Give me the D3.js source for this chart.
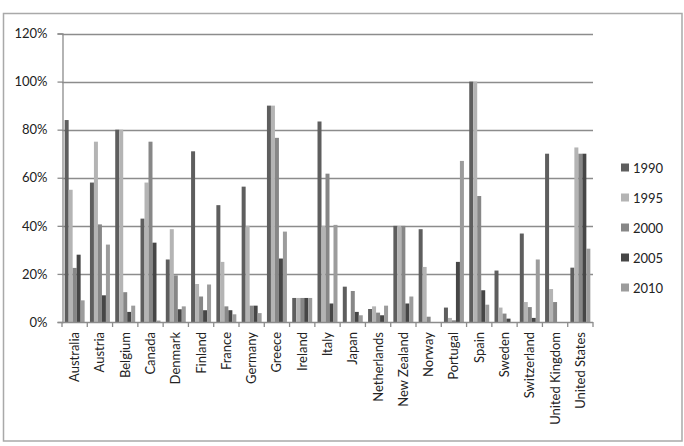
<!DOCTYPE html>
<html>
<head>
<meta charset="utf-8">
<script src="https://cdn.jsdelivr.net/npm/d3@7"></script>
<style>
html,body{margin:0;padding:0;background:#fff;}
svg{display:block;font-family:Lato,"Open Sans",sans-serif;}
</style>
</head>
<body>
<svg id="chart" width="684" height="446"></svg>
<script>
const categories = ["Australia","Austria","Belgium","Canada","Denmark","Finland","France","Germany","Greece","Ireland","Italy","Japan","Netherlands","New Zealand","Norway","Portugal","Spain","Sweden","Switzerland","United Kingdom","United States"];
const seriesNames = ["1990","1995","2000","2005","2010"];
const v1990 = [84,58,80,43,26,71,48.6,56.3,90,10,83.4,14.7,5.4,40,38.6,6,100,21.4,36.8,70,22.6];
const v1995 = [55,75,80,58,38.6,15.8,25,40,90,10,40,0,6.5,40,22.9,1.7,100,6,8.3,13.7,72.6];
const v2000 = [22.5,40.6,12.4,75,19.4,10.6,6.5,6.8,76.6,10,61.7,12.9,3.9,40,2.2,0.7,52.4,3.5,6.2,8.3,70];
const v2005 = [28,11.1,4.2,33,5.3,4.9,4.9,6.8,26.4,10,7.7,4.2,2.8,7.7,0,25,13.2,1.4,1.7,0,70];
const v2010 = [9,32.2,6.8,0.6,6.5,15.6,3.2,3.7,37.6,10,40.4,2.8,6.8,10.6,0,67,7.2,0,26,0,30.5];
const yTicks = [0,20,40,60,80,100,120];
const colors = ["#5e5e5e","#b4b4b4","#878787","#464646","#9c9c9c"];

const seriesValues = [v1990,v1995,v2000,v2005,v2010];
const svg = d3.select("#chart");

// outer frame
svg.append("rect").attr("x",3.5).attr("y",13.5).attr("width",678.5).attr("height",427.5)
  .attr("fill","#fff").attr("stroke","#a9a9a9").attr("stroke-width",1.5);

const pLeft = 62, pRight = 593, pTop = 33.5, pBottom = 322;
const x0 = d3.scaleBand().domain(categories).range([pLeft,pRight]).paddingInner(0.21).paddingOuter(0.105);
const x1 = d3.scaleBand().domain(seriesNames).range([0,x0.bandwidth()]);
const y = d3.scaleLinear().domain([0,120]).range([pBottom,pTop]);

// gridlines
svg.append("g").selectAll("line").data(yTicks.filter(d=>d>0)).join("line")
  .attr("x1",pLeft).attr("x2",pRight).attr("y1",d=>Math.round(y(d))+0.5).attr("y2",d=>Math.round(y(d))+0.5)
  .attr("stroke","#8c8c8c").attr("stroke-width",1.3);

// bars
const g = svg.append("g");
categories.forEach((c,i)=>{
  seriesNames.forEach((s,j)=>{
    const val = seriesValues[j][i];
    if (val<=0) return;
    g.append("rect")
      .attr("x",x0(c)+x1(s))
      .attr("y",y(val))
      .attr("width",x1.bandwidth())
      .attr("height",y(0)-y(val))
      .attr("fill",colors[j]);
  });
});

// y axis
const yAxis = d3.axisLeft(y).tickValues(yTicks).tickFormat(d=>d+"%").tickSize(5).tickPadding(10);
const ya = svg.append("g").attr("transform",`translate(${pLeft+0.5},0)`).call(yAxis);
ya.select(".domain").attr("stroke","#8c8c8c").attr("stroke-width",1.3);
ya.selectAll(".tick line").attr("stroke","#8c8c8c").attr("stroke-width",1.3);
ya.selectAll("text").attr("font-size",13).attr("fill","#222").attr("font-family","Lato");

// x axis
const xBound = d3.scaleLinear().domain([0,categories.length]).range([pLeft,pRight]);
const xa = svg.append("g");
xa.append("line").attr("x1",pLeft).attr("x2",pRight).attr("y1",pBottom+0.5).attr("y2",pBottom+0.5)
  .attr("stroke","#8c8c8c").attr("stroke-width",1.3);
xa.selectAll("line.tk").data(d3.range(categories.length+1)).join("line").attr("class","tk")
  .attr("x1",d=>xBound(d)).attr("x2",d=>xBound(d)).attr("y1",pBottom).attr("y2",pBottom+5)
  .attr("stroke","#8c8c8c").attr("stroke-width",1.3);
xa.selectAll("text").data(categories).join("text")
  .attr("transform",d=>`translate(${x0(d)+x0.bandwidth()/2+4.5},${pBottom+10}) rotate(-90)`)
  .attr("text-anchor","end").attr("font-size",13).attr("fill","#222")
  .text(d=>d);

// legend
const leg = svg.append("g");
seriesNames.forEach((s,j)=>{
  const ly = 168 + j*30;
  leg.append("rect").attr("x",621).attr("y",ly-4.5).attr("width",8).attr("height",8).attr("fill",colors[j]);
  leg.append("text").attr("x",633).attr("y",ly+5).attr("font-size",13).attr("fill","#222").text(s);
});
</script>
</body>
</html>
